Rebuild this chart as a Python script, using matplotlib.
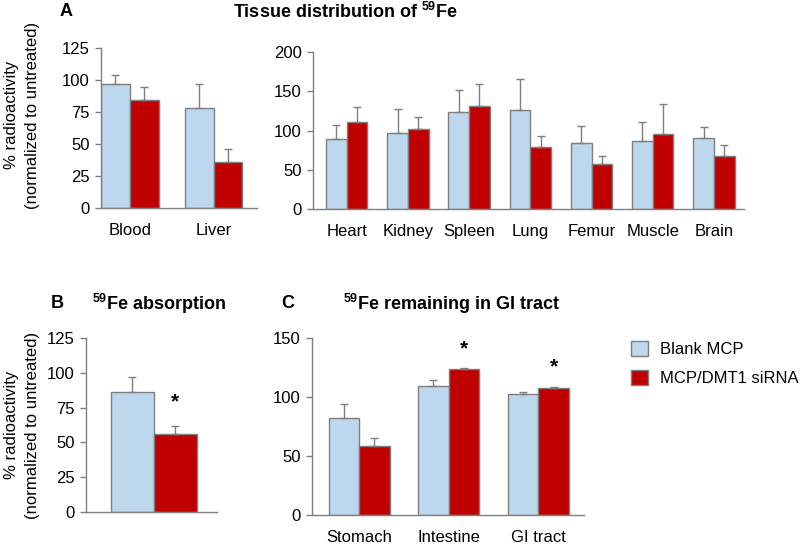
"""Figure: 59Fe tissue distribution, absorption and GI tract retention."""

import numpy as np
import matplotlib
matplotlib.use("Agg")
import matplotlib.pyplot as plt
from matplotlib.patches import Patch

plt.rcParams['font.family'] = ['Liberation Sans', 'DejaVu Sans']
plt.rcParams['mathtext.fontset'] = 'custom'
plt.rcParams['mathtext.rm'] = 'Liberation Sans'
plt.rcParams['mathtext.bf'] = 'Liberation Sans:bold'

# ---- data ----
series_names = ["Blank MCP", "MCP/DMT1 siRNA"]

blood_liver = ["Blood", "Liver"]
bl_blank = [97, 78]
bl_blank_err = [7, 19]
bl_sirna = [84, 36]
bl_sirna_err = [10.5, 10]

organs = ["Heart", "Kidney", "Spleen", "Lung", "Femur", "Muscle", "Brain"]
org_blank = [89, 96.5, 123, 126, 83.5, 86.5, 90.5]
org_blank_err = [18.5, 31, 28.5, 39.5, 22, 24, 13.5]
org_sirna = [110.5, 101.5, 131.5, 78.5, 57.5, 96, 68]
org_sirna_err = [19, 15.5, 27.5, 14, 10, 38, 14]

absorp_blank = [86]
absorp_blank_err = [11]
absorp_sirna = [56]
absorp_sirna_err = [6]

gi_parts = ["Stomach", "Intestine", "GI tract"]
gi_blank = [82, 109.5, 102.2]
gi_blank_err = [12, 4.5, 2.2]
gi_sirna = [58.5, 123.8, 107.3]
gi_sirna_err = [6.5, 1.2, 0.8]

BLUE = "#BDD7EE"
RED = "#C00000"
GREY = "#7F7F7F"

W, H = 800, 544
fig = plt.figure(figsize=(W / 100, H / 100), dpi=100)


def px_axes(x0, x1, ytop, ybot):
    """Axes placed by pixel edges (origin top-left)."""
    return fig.add_axes([x0 / W, 1 - ybot / H, (x1 - x0) / W, (ybot - ytop) / H])


def bar_pair(ax, n, blank, blank_err, sirna, sirna_err, width):
    x = np.arange(n)
    for off, vals, errs, col in [(-width / 2, blank, blank_err, BLUE),
                                 (width / 2, sirna, sirna_err, RED)]:
        ax.bar(x + off, vals, width, color=col, edgecolor=GREY, linewidth=1,
               yerr=[np.zeros(n), errs], ecolor=GREY,
               error_kw=dict(capsize=3, elinewidth=1, capthick=1), zorder=2)
    return x


def style(ax, ylim, yticks, labels=None):
    ax.set_ylim(*ylim)
    ax.set_yticks(yticks)
    for s in ['top', 'right']:
        ax.spines[s].set_visible(False)
    for s in ['left', 'bottom']:
        ax.spines[s].set_color(GREY)
        ax.spines[s].set_linewidth(1)
    ax.tick_params(axis='y', length=4, width=1, color=GREY, labelsize=12, pad=4)
    ax.tick_params(axis='x', length=0, labelsize=12, pad=11)
    if labels is None:
        ax.set_xticks([])
    else:
        ax.set_xticks(range(len(labels)))
        ax.set_xticklabels(labels)


# Panel A (left)
ax1 = px_axes(101, 257, 48, 208)
bar_pair(ax1, 2, bl_blank, bl_blank_err, bl_sirna, bl_sirna_err, 0.345)
style(ax1, (0, 125), [0, 25, 50, 75, 100, 125], blood_liver)
ax1.set_xlim(-0.345, 1.52)

# Panel A (right)
ax2 = px_axes(313, 744, 52, 209)
bar_pair(ax2, 7, org_blank, org_blank_err, org_sirna, org_sirna_err, 0.337)
style(ax2, (0, 200), [0, 50, 100, 150, 200], organs)
ax2.set_xlim(-0.55, 6.49)

# Panel B
ax3 = px_axes(86, 217, 338, 512)
bar_pair(ax3, 1, absorp_blank, absorp_blank_err, absorp_sirna, absorp_sirna_err, 0.35)
style(ax3, (0, 125), [0, 25, 50, 75, 100, 125])
ax3.set_xlim(-0.553, 0.513)
ax3.text(0.175, 79, "*", ha='center', va='center', fontsize=15, fontweight='bold')

# Panel C
ax4 = px_axes(312, 584, 338, 515)
x4 = bar_pair(ax4, 3, gi_blank, gi_blank_err, gi_sirna, gi_sirna_err, 0.34)
style(ax4, (0, 150), [0, 50, 100, 150], gi_parts)
ax4.set_xlim(-0.525, 2.51)
ax4.text(x4[1] + 0.17, 140.5, "*", ha='center', va='center', fontsize=15, fontweight='bold')
ax4.text(x4[2] + 0.17, 125.5, "*", ha='center', va='center', fontsize=15, fontweight='bold')

# y labels
ylab = "% radioactivity\n(normalized to untreated)"
fig.text(22 / W, 1 - 115 / H, ylab, rotation=90, ha='center', va='center',
         fontsize=12, linespacing=1.45)
fig.text(22 / W, 1 - 425 / H, ylab, rotation=90, ha='center', va='center',
         fontsize=12, linespacing=1.45)

# panel letters and titles
fig.text(66 / W, 1 - 12 / H, "A", ha='center', va='center', fontsize=13, fontweight='bold')
fig.text(345 / W, 1 - 12 / H, r"Tissue distribution of $^{\mathbf{59}}$Fe",
         ha='center', va='center', fontsize=13, fontweight='bold')
fig.text(57 / W, 1 - 304 / H, "B", ha='center', va='center', fontsize=13, fontweight='bold')
fig.text(159 / W, 1 - 304 / H, r"$^{\mathbf{59}}$Fe absorption",
         ha='center', va='center', fontsize=13, fontweight='bold')
fig.text(288 / W, 1 - 304 / H, "C", ha='center', va='center', fontsize=13, fontweight='bold')
fig.text(452 / W, 1 - 304 / H, r"$^{\mathbf{59}}$Fe remaining in GI tract",
         ha='center', va='center', fontsize=13, fontweight='bold')

# legend
handles = [Patch(facecolor=BLUE, edgecolor=GREY, linewidth=1),
           Patch(facecolor=RED, edgecolor=GREY, linewidth=1)]
fig.legend(handles, series_names, loc='upper left',
           bbox_to_anchor=(631 / W, 1 - 341 / H), frameon=False, fontsize=12,
           handlelength=1.0, handleheight=1.0, handletextpad=0.75,
           labelspacing=0.75, borderpad=0, borderaxespad=0)

plt.savefig("out.png", dpi=100)
plt.close()
